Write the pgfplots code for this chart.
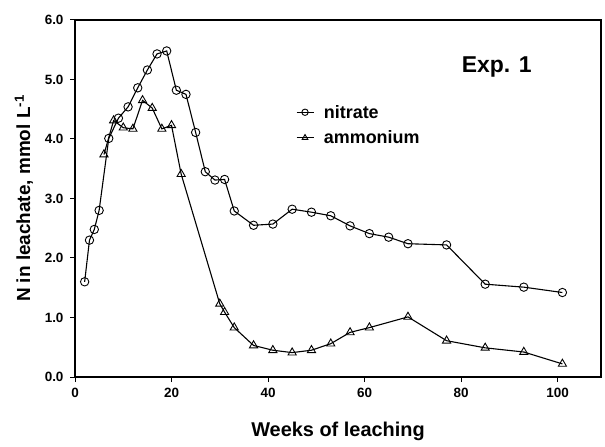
\documentclass[border=0pt]{standalone}
\usepackage{fontspec}
\setmainfont{Liberation Sans}
\usepackage{pgfplots}
\pgfplotsset{compat=1.18}
\begin{document}
\begin{tikzpicture}
\begin{axis}[
  scale only axis, width=526bp, height=357bp,
  xmin=0, xmax=109, ymin=0, ymax=6,
  xtick={0,20,...,100}, ytick={0,1,...,6},
  tick align=outside, xtick pos=left, ytick pos=left,
  major tick length=5bp,
  tick style={line width=1bp, black},
  /pgf/number format/assume math mode=true,
  ticklabel style={font=\fontsize{13.5}{15}\selectfont\bfseries},
  xticklabel style={yshift=-3bp},
  yticklabel style={xshift=-3bp, /pgf/number format/.cd, fixed, fixed zerofill, precision=1},
  axis line style={line width=1.2bp},
  xlabel={Weeks of leaching},
  ylabel={N in leachate, mmol L\textsuperscript{-1}},
  xlabel style={font=\fontsize{20}{24}\selectfont\bfseries},
  ylabel style={font=\fontsize{19}{22}\selectfont\bfseries},
  xlabel shift=17bp, ylabel shift=5bp,
  legend style={at={(0.42,0.768)}, anchor=north west, draw=none, fill=none,
    inner sep=0pt, font=\fontsize{18}{21}\selectfont\bfseries, row sep=7bp, column sep=8bp},
  legend cell align=left,
  legend image code/.code={\draw[mark repeat=2,mark phase=2,mark size=3.2bp,line width=0.8bp,#1] plot coordinates {(0bp,0bp) (8.5bp,0bp) (17bp,0bp)};},
]
\addplot[black, line width=1.1bp, mark=o, mark size=4.2bp, mark options={line width=0.9bp}] coordinates {
(2,1.60) (3,2.30) (4,2.48) (5,2.80) (7,4.01) (9,4.35) (11,4.54) (13,4.86) (15,5.16) (17,5.43) (19,5.48) (21,4.82) (23,4.75) (25,4.11) (27,3.45) (29,3.31) (31,3.32) (33,2.79) (37,2.55) (41,2.57) (45,2.82) (49,2.77) (53,2.71) (57,2.54) (61,2.41) (65,2.35) (69,2.24) (77,2.22) (85,1.56) (93,1.51) (101,1.42)
};
\addlegendentry{nitrate}
\addplot[black, line width=1.1bp, mark=triangle, mark size=4.7bp, mark options={line width=0.9bp, fill=white}] coordinates {
(6,3.74) (8,4.31) (10,4.19) (12,4.17) (14,4.65) (16,4.52) (18,4.17) (20,4.23) (22,3.41) (30,1.23) (31,1.09) (33,0.83) (37,0.53) (41,0.45) (45,0.41) (49,0.45) (53,0.56) (57,0.75) (61,0.83) (69,1.01) (77,0.61) (85,0.49) (93,0.42) (101,0.22)
};
\addlegendentry{ammonium}
\node[font=\fontsize{23}{27}\selectfont\bfseries] at (axis cs:87.4,5.21) {Exp. 1};
\end{axis}
\path (current axis.south west) ++(-75bp,-70bp);
\path (current axis.north east) ++(4bp,20bp);
\end{tikzpicture}
\end{document}
